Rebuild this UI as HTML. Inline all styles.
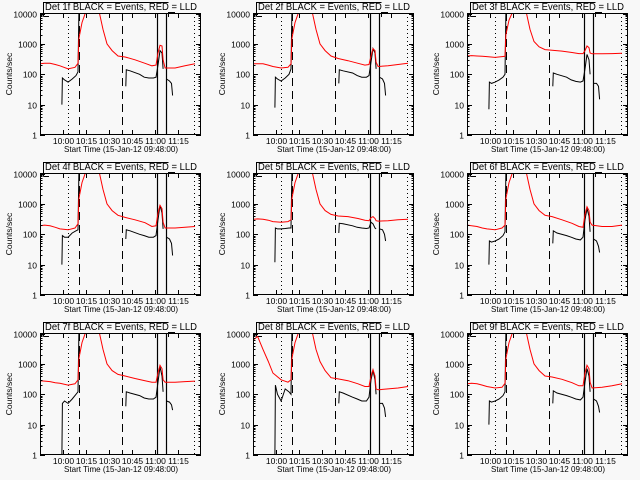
<!DOCTYPE html>
<html><head><meta charset="utf-8"><style>
html,body{margin:0;padding:0;background:#f8f8f8;}
svg{display:block;font-family:"Liberation Sans",sans-serif;}
</style></head><body>
<svg id="chart" width="640" height="480" viewBox="0 0 640 480"></svg>
<script>
const panelTitles = ["Det 1f","Det 2f","Det 3f","Det 4f","Det 5f","Det 6f","Det 7f","Det 8f","Det 9f"];
const xTickLabels = ["10:00","10:15","10:30","10:45","11:00","11:15"];
const xTickMinutes = [15,30,45,60,75,90];
const yTickValues = [1,10,100,1000,10000];
const yTickLabels = ["1","10","100","1000","10000"];
const markerMinutes = [18.3,25.4,53.5,76.3,82.2,100.5];
const markerStyles = ["dot","dash","dash","solid","solid","dot"];
const redTimes = [0,3,6.5,10,13,18.3,22.8,24.8,25.4,27.4,30,38.5,41.1,43.7,47,50.9,55.5,62,68.5,73,75.7,77,78.3,79.6,80.3,81.6,88.1,94.6,101.1];
const redP1 = [220,230,230,210,190,150,170,230,1500,5000,12000,12000,3000,1000,600,400,370,300,230,190,200,500,900,850,300,160,160,190,220];
const redP2 = [220,220,220,200,180,160,170,220,1500,5000,12000,12000,3000,1000,600,400,330,280,230,200,210,400,700,600,250,180,190,210,230];
const redP3 = [400,410,400,390,380,360,380,390,2000,6000,12000,12000,3000,1200,800,650,620,580,520,480,480,600,850,750,500,470,470,480,490];
const redP4 = [190,200,190,170,150,140,160,220,1500,5000,12000,12000,3000,1000,600,420,360,300,240,180,190,500,900,700,250,160,160,170,180];
const redP5 = [310,320,310,290,260,250,260,300,1500,5000,12000,12000,3000,1000,600,450,400,380,330,290,280,350,380,330,280,270,280,300,310];
const redP6 = [200,190,180,160,150,140,160,200,1500,5000,12000,12000,3000,1000,600,420,380,300,230,180,170,450,800,600,250,200,180,180,200];
const redP7 = [280,270,260,240,230,200,220,300,1500,5000,12000,12000,3000,1000,600,450,400,330,280,250,250,500,900,700,300,250,250,260,270];
const redP8 = [6000,8000,3000,1200,500,300,250,300,1500,5000,12000,12000,3000,1200,600,350,320,280,220,180,180,400,650,400,150,140,150,160,180];
const redP9 = [220,230,220,200,180,160,170,230,1500,5000,12000,12000,3000,1000,600,400,370,310,240,190,190,500,900,700,250,160,170,190,220];
const blackTimes = [14.3,14.6,16,18.3,21,23.5,24.8,25.4,40,56,56.3,58.7,65,68,71,74,75.7,77,78.3,79.6,80.3,81.5,82.5,84.5,85.8,86.5];
const blackP1 = [10,75,65,55,70,90,120,12000,null,40,140,130,100,80,75,75,80,200,600,500,150,null,70,60,50,20];
const blackP2 = [8,80,70,60,75,100,150,12000,null,50,140,130,110,90,80,80,90,250,700,500,150,null,80,70,50,20];
const blackP3 = [7,55,50,55,65,80,100,12000,null,40,110,100,80,65,58,55,60,150,450,300,100,null,50,50,40,15];
const blackP4 = [10,90,80,80,110,130,140,12000,null,70,140,130,100,90,80,80,90,300,900,500,150,null,80,70,50,20];
const blackP5 = [12,160,150,150,155,160,160,12000,null,110,230,220,190,170,160,155,160,250,220,160,150,null,150,140,100,60];
const blackP6 = [10,60,55,60,70,90,120,12000,null,50,130,110,90,80,70,65,80,300,700,400,120,null,70,60,40,25];
const blackP7 = [1,50,60,50,70,100,120,12000,null,40,120,110,90,75,70,70,80,250,800,400,120,null,60,55,45,30];
const blackP8 = [1,200,100,60,150,120,100,12000,null,50,120,110,80,70,60,60,80,300,600,300,100,null,50,50,35,18];
const blackP9 = [10,60,55,60,70,90,120,12000,null,50,130,110,90,80,70,65,80,250,700,400,120,null,70,60,40,25];
const redSeries = [redP1,redP2,redP3,redP4,redP5,redP6,redP7,redP8,redP9];
const blackSeries = [blackP1,blackP2,blackP3,blackP4,blackP5,blackP6,blackP7,blackP8,blackP9];

const NS = "http://www.w3.org/2000/svg";
const svg = document.getElementById('chart');
function mk(tag, attrs, parent){
  const e = document.createElementNS(NS, tag);
  for (const k in attrs) e.setAttribute(k, attrs[k]);
  parent.appendChild(e);
  return e;
}
const L = 40, R = 201, T = 13, B = 135;
const PXMIN = 1.533;
function xs(m){ return L + m*PXMIN; }
function ys(v){ return B - (Math.log10(v)/4)*(B-T-0.5); }

for (let p = 0; p < 9; p++){
  const ox = Math.round((p%3)*213.33), oy = Math.floor(p/3)*160;
  const g = mk('g', {transform:`translate(${ox},${oy})`}, svg);
  
  
  const clip = mk('clipPath', {id:'clip'+p}, g);
  mk('rect', {x:L, y:T, width:R-L, height:B-T}, clip);

  const br = mk('path', {d:`M43.5 16.5 V2.5 H168.5 M43.5 16.5 H49 M168.5 17 V12.5 H175`, stroke:'#000', fill:'none', 'stroke-width':1}, g);
  
  

  const title = mk('text', {x:121, y:10, 'font-size':10, 'text-anchor':'middle', textLength:152, lengthAdjust:'spacingAndGlyphs', fill:'#000'}, g);
  title.textContent = panelTitles[p] + " BLACK = Events, RED = LLD";
  
  

  markerMinutes.forEach((m, i) => {
    const x = Math.round(xs(m)) + 0.5;
    const st = markerStyles[i];
    const ln = mk('line', {x1:x, x2:x, y1:T, y2:B, stroke:'#000', 'stroke-width': st==='solid'?1.2:1,
      'stroke-dasharray': st==='dot' ? '1,3' : (st==='dash' ? '8,5' : 'none')}, g);
    
    
  });

  function drawSeries(times, vals, color, name){
    let d = '', pen = false;
    for (let i = 0; i < times.length; i++){
      if (vals[i] === null){ pen = false; continue; }
      d += (pen ? 'L' : 'M') + xs(times[i]).toFixed(1) + ' ' + ys(vals[i]).toFixed(1) + ' ';
      pen = true;
    }
    const path = mk('path', {d:d, stroke:color, fill:'none', 'stroke-width':1, 'clip-path':`url(#clip${p})`}, g);
    
    
  }
  drawSeries(blackTimes, blackSeries[p], '#000', 'events-series');
  drawSeries(redTimes, redSeries[p], '#ff0000', 'lld-series');

  const box = mk('rect', {x:L+0.5, y:T+0.5, width:R-L-1, height:B-T-1, fill:'none', stroke:'#000', 'stroke-width':1}, g);
  
  

  yTickValues.forEach((v, i) => {
    const y = Math.round(ys(v)) + 0.5;
    const t = mk('path', {d:`M${L} ${y} H${L+5} M${R} ${y} H${R-5}`, stroke:'#000'}, g);
    
    
    const lb = mk('text', {x:L-3, y:y+3, 'font-size':8.5, 'text-anchor':'end', fill:'#000'}, g);
    lb.textContent = yTickLabels[i];
    
    
    if (i < yTickValues.length-1){
      for (let k = 2; k < 10; k++){
        const ym = Math.round(ys(v*k)) + 0.5;
        const mt = mk('path', {d:`M${L} ${ym} H${L+2.5} M${R} ${ym} H${R-2.5}`, stroke:'#000'}, g);
        
        
      }
    }
  });
  xTickMinutes.forEach((m, i) => {
    const x = Math.round(xs(m)) + 0.5;
    const t = mk('path', {d:`M${x} ${B} V${B-5} M${x} ${T} V${T+5}`, stroke:'#000'}, g);
    
    
    const lb = mk('text', {x:x, y:B+9, 'font-size':8.5, 'text-anchor':'middle', fill:'#000'}, g);
    lb.textContent = xTickLabels[i];
    
    
  });
  const xt = mk('text', {x:121, y:B+17, 'font-size':8.5, 'text-anchor':'middle', textLength:114, lengthAdjust:'spacingAndGlyphs', fill:'#000'}, g);
  xt.textContent = "Start Time (15-Jan-12 09:48:00)";
  
  
  const yt = mk('text', {x:0, y:0, 'font-size':8.5, 'text-anchor':'middle', transform:'translate(12,74) rotate(-90)', fill:'#000'}, g);
  yt.textContent = "Counts/sec";
  
  
}
</script>
</body></html>
